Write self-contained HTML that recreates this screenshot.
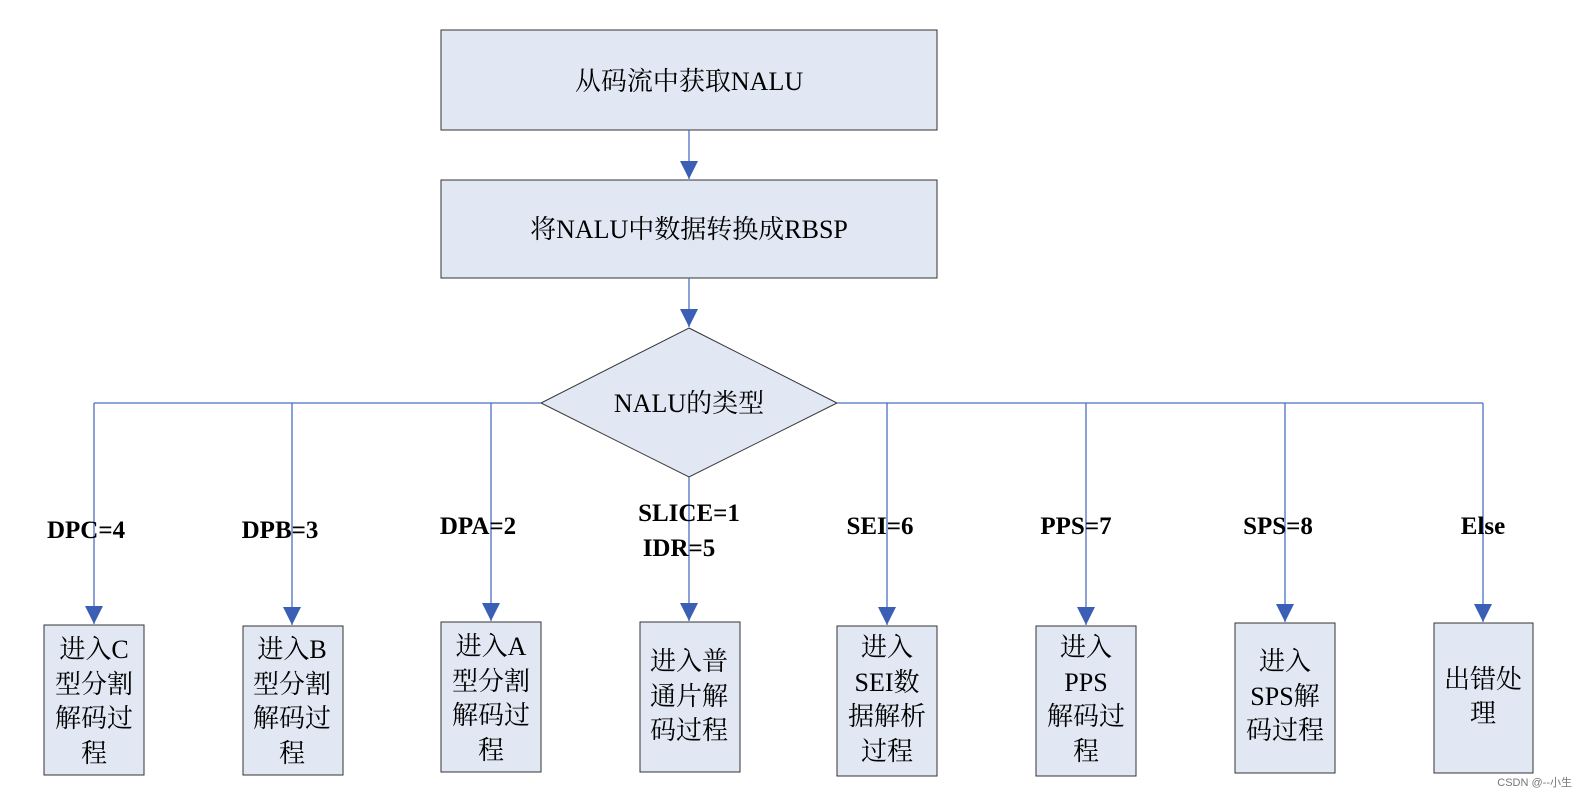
<!DOCTYPE html>
<html><head><meta charset="utf-8"><style>
body{margin:0;background:#fff;width:1578px;height:802px;overflow:hidden}
svg text{font-family:"Liberation Serif","Noto Serif CJK SC",serif;fill:#000}
</style></head><body>
<svg width="1578" height="802" xmlns="http://www.w3.org/2000/svg">
<defs><marker id="a" markerWidth="12" markerHeight="12" refX="10" refY="6" orient="auto" markerUnits="userSpaceOnUse"><path d="M0,0 L12,6 L0,12 Z" fill="#3a5fb5"/></marker>
<marker id="b" markerWidth="20" markerHeight="20" refX="18" refY="9" orient="auto" markerUnits="userSpaceOnUse"><path d="M0,0 L18,9 L0,18 Z" fill="#3a5fb5"/></marker></defs>
<g fill="#e1e8f4" stroke="#333" stroke-width="1">
<rect x="441" y="30" width="496" height="100"/>
<rect x="441" y="180" width="496" height="98"/>
<polygon points="689,328 837,403 689,477 541,403"/>
<rect x="44" y="625" width="100" height="150"/>
<rect x="243" y="626" width="100" height="149"/>
<rect x="441" y="622" width="100" height="150"/>
<rect x="640" y="622" width="100" height="150"/>
<rect x="837" y="626" width="100" height="150"/>
<rect x="1036" y="626" width="100" height="150"/>
<rect x="1235" y="623" width="100" height="150"/>
<rect x="1434" y="623" width="99" height="150"/>
</g>
<g stroke="#4a6fc0" stroke-width="1.3" fill="none">
<line x1="689" y1="130" x2="689" y2="179" marker-end="url(#b)"/>
<line x1="689" y1="278" x2="689" y2="327" marker-end="url(#b)"/>
<line x1="94" y1="403" x2="541" y2="403"/>
<line x1="837" y1="403" x2="1483" y2="403"/>
<line x1="94" y1="403" x2="94" y2="624" marker-end="url(#b)"/>
<line x1="292" y1="403" x2="292" y2="625" marker-end="url(#b)"/>
<line x1="491" y1="403" x2="491" y2="621" marker-end="url(#b)"/>
<line x1="689" y1="477" x2="689" y2="621" marker-end="url(#b)"/>
<line x1="887" y1="403" x2="887" y2="625" marker-end="url(#b)"/>
<line x1="1086" y1="403" x2="1086" y2="625" marker-end="url(#b)"/>
<line x1="1285" y1="403" x2="1285" y2="622" marker-end="url(#b)"/>
<line x1="1483" y1="403" x2="1483" y2="622" marker-end="url(#b)"/>
</g>
<g font-size="26" text-anchor="middle">
<text x="689" y="90">从码流中获取NALU</text>
<text x="689" y="238">将NALU中数据转换成RBSP</text>
<text x="689" y="412">NALU的类型</text>
</g>
<g font-size="25" font-weight="bold" text-anchor="middle">
<text x="86" y="538">DPC=4</text>
<text x="280" y="538">DPB=3</text>
<text x="478" y="534">DPA=2</text>
<text x="689" y="521">SLICE=1</text>
<text x="679" y="556">IDR=5</text>
<text x="880" y="534">SEI=6</text>
<text x="1076" y="534">PPS=7</text>
<text x="1278" y="534">SPS=8</text>
<text x="1483" y="534">Else</text>
</g>
<g font-size="26" text-anchor="middle">
<text x="94" y="658">进入C</text><text x="94" y="693">型分割</text><text x="94" y="727">解码过</text><text x="94" y="762">程</text>
<text x="292" y="658">进入B</text><text x="292" y="693">型分割</text><text x="292" y="727">解码过</text><text x="292" y="762">程</text>
<text x="491" y="655">进入A</text><text x="491" y="690">型分割</text><text x="491" y="724">解码过</text><text x="491" y="759">程</text>
<text x="689" y="670">进入普</text><text x="689" y="705">通片解</text><text x="689" y="739">码过程</text>
<text x="887" y="656">进入</text><text x="887" y="691">SEI数</text><text x="887" y="725">据解析</text><text x="887" y="760">过程</text>
<text x="1086" y="656">进入</text><text x="1086" y="691">PPS</text><text x="1086" y="725">解码过</text><text x="1086" y="760">程</text>
<text x="1285" y="670">进入</text><text x="1285" y="705">SPS解</text><text x="1285" y="739">码过程</text>
<text x="1483" y="688">出错处</text><text x="1483" y="722">理</text>
</g>
<text x="1572" y="786" font-size="11" text-anchor="end" style="font-family:'Liberation Sans','Noto Sans CJK SC',sans-serif;fill:#777">CSDN @--小生</text>
</svg>
</body></html>
